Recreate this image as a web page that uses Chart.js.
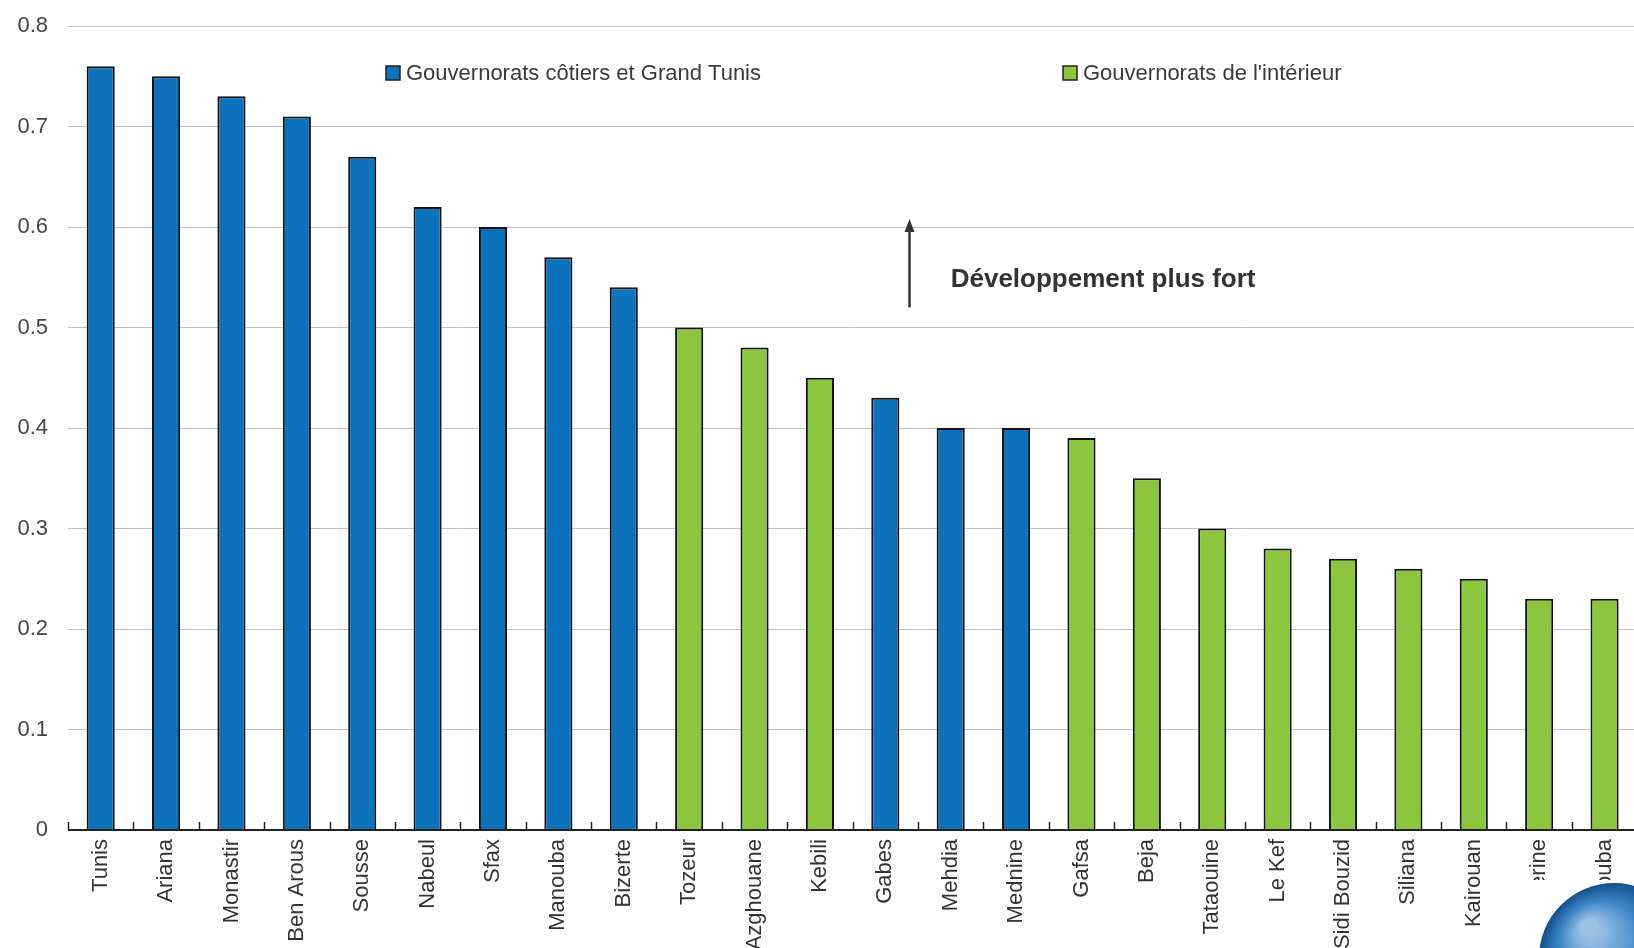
<!DOCTYPE html>
<html>
<head>
<meta charset="utf-8">
<script src="https://cdn.jsdelivr.net/npm/chart.js@4.4.1/dist/chart.umd.min.js"></script>
<style>
  html, body { margin: 0; padding: 0; background: #fff; overflow: hidden; }
  #wrap { position: relative; width: 1640px; height: 962px; }
</style>
</head>
<body>
<div id="wrap"><canvas id="chart"></canvas></div>
<script>
const categories = ["Tunis", "Ariana", "Monastir", "Ben Arous", "Sousse", "Nabeul", "Sfax", "Manouba",
  "Bizerte", "Tozeur", "Azghouane", "Kebili", "Gabes", "Mehdia", "Mednine", "Gafsa", "Beja",
  "Tataouine", "Le Kef", "Sidi Bouzid", "Siliana", "Kairouan", "Kasserine", "Jendouba"];
const values = [0.76, 0.75, 0.73, 0.71, 0.67, 0.62, 0.60, 0.57, 0.54, 0.50, 0.48, 0.45, 0.43,
  0.40, 0.40, 0.39, 0.35, 0.30, 0.28, 0.27, 0.26, 0.25, 0.23, 0.23];
// c = coastal / Grand Tunis, i = interior
const regions = ["c", "c", "c", "c", "c", "c", "c", "c", "c", "i", "i", "i", "c", "c", "c",
  "i", "i", "i", "i", "i", "i", "i", "i", "i"];
const legendLabels = ["Gouvernorats côtiers et Grand Tunis", "Gouvernorats de l'intérieur"];
const yMin = 0, yMax = 0.8, yStep = 0.1;

const colors = { c: "#0b72bb", i: "#8cc63f" };
const FONT = "'Liberation Sans', Arial, sans-serif";

// legend, axis line, upward ticks, arrow note and logo
const decor = {
  id: "decor",
  afterDraw(chart) {
    const { ctx, chartArea, scales } = chart;
    const x = scales.x, y = scales.y;
    const y0 = y.getPixelForValue(0);
    ctx.save();

    // x axis line + small ticks between categories, pointing up
    ctx.strokeStyle = "#222";
    ctx.lineWidth = 2;
    ctx.beginPath();
    ctx.moveTo(chartArea.left, y0);
    ctx.lineTo(chartArea.right, y0);
    ctx.stroke();
    ctx.lineWidth = 1.5;
    for (let i = 0; i <= categories.length; i++) {
      const px = Math.round(x.getPixelForValue(i - 0.5)) + 0.5;
      ctx.beginPath();
      ctx.moveTo(px, y0);
      ctx.lineTo(px, y0 - 8);
      ctx.stroke();
    }

    // legend
    ctx.font = "22px " + FONT;
    ctx.textBaseline = "middle";
    ctx.textAlign = "left";
    const legendX = [386, 1063];
    ["c", "i"].forEach((k, idx) => {
      ctx.fillStyle = colors[k];
      ctx.fillRect(legendX[idx], 66, 14, 14);
      ctx.strokeStyle = "#222";
      ctx.lineWidth = 1.5;
      ctx.strokeRect(legendX[idx], 66, 14, 14);
      ctx.fillStyle = "#3a3a3a";
      ctx.fillText(legendLabels[idx], legendX[idx] + 20, 74);
    });

    // arrow "Développement plus fort"
    const ax = x.getPixelForValue(12.37);
    const aTop = y.getPixelForValue(0.608);
    const aBot = y.getPixelForValue(0.52);
    ctx.strokeStyle = "#333";
    ctx.fillStyle = "#333";
    ctx.lineWidth = 2.5;
    ctx.beginPath();
    ctx.moveTo(ax, aBot);
    ctx.lineTo(ax, aTop + 10);
    ctx.stroke();
    ctx.beginPath();
    ctx.moveTo(ax, aTop);
    ctx.lineTo(ax - 5, aTop + 13);
    ctx.lineTo(ax + 5, aTop + 13);
    ctx.closePath();
    ctx.fill();
    ctx.font = "bold 26px " + FONT;
    ctx.fillText("Développement plus fort", x.getPixelForValue(13.0), y.getPixelForValue(0.547));

    // logo corner
    ctx.fillStyle = "#fff";
    ctx.fillRect(1514, 880, 130, 90);
    const cx = 1614, cy = 958, r = 75;
    const g = ctx.createRadialGradient(cx - 25, cy - 30, 8, cx, cy, r);
    g.addColorStop(0, "#9cc3e6");
    g.addColorStop(0.5, "#3f86c6");
    g.addColorStop(1, "#134f8f");
    ctx.fillStyle = g;
    ctx.beginPath();
    ctx.arc(cx, cy, r, 0, Math.PI * 2);
    ctx.fill();
    ctx.restore();
  }
};

new Chart(document.getElementById("chart"), {
  type: "bar",
  data: {
    labels: categories,
    datasets: [{
      data: values,
      backgroundColor: regions.map(k => colors[k]),
      borderColor: "#111",
      borderWidth: 2,
      barPercentage: 0.43,
      categoryPercentage: 1
    }]
  },
  options: {
    responsive: true,
    maintainAspectRatio: false,
    animation: false,
    layout: { padding: { top: 26, right: 2, left: 0, bottom: 0 } },
    plugins: { legend: { display: false }, tooltip: { enabled: false } },
    scales: {
      x: {
        grid: { display: false, drawTicks: false },
        border: { display: false },
        ticks: {
          autoSkip: false, minRotation: 90, maxRotation: 90, padding: 9,
          color: "#333", font: { family: FONT, size: 22 }
        },
        afterFit(s) { s.height = 132; }
      },
      y: {
        min: yMin, max: yMax,
        grid: { color: "#c2c2c2", lineWidth: 1, drawTicks: false },
        border: { display: false },
        ticks: { stepSize: yStep, padding: 20, color: "#444", font: { family: FONT, size: 22 } },
        afterFit(s) { s.width = 68; s.paddingTop = 0; s.paddingBottom = 0; }
      }
    }
  },
  plugins: [decor]
});
</script>
</body>
</html>
